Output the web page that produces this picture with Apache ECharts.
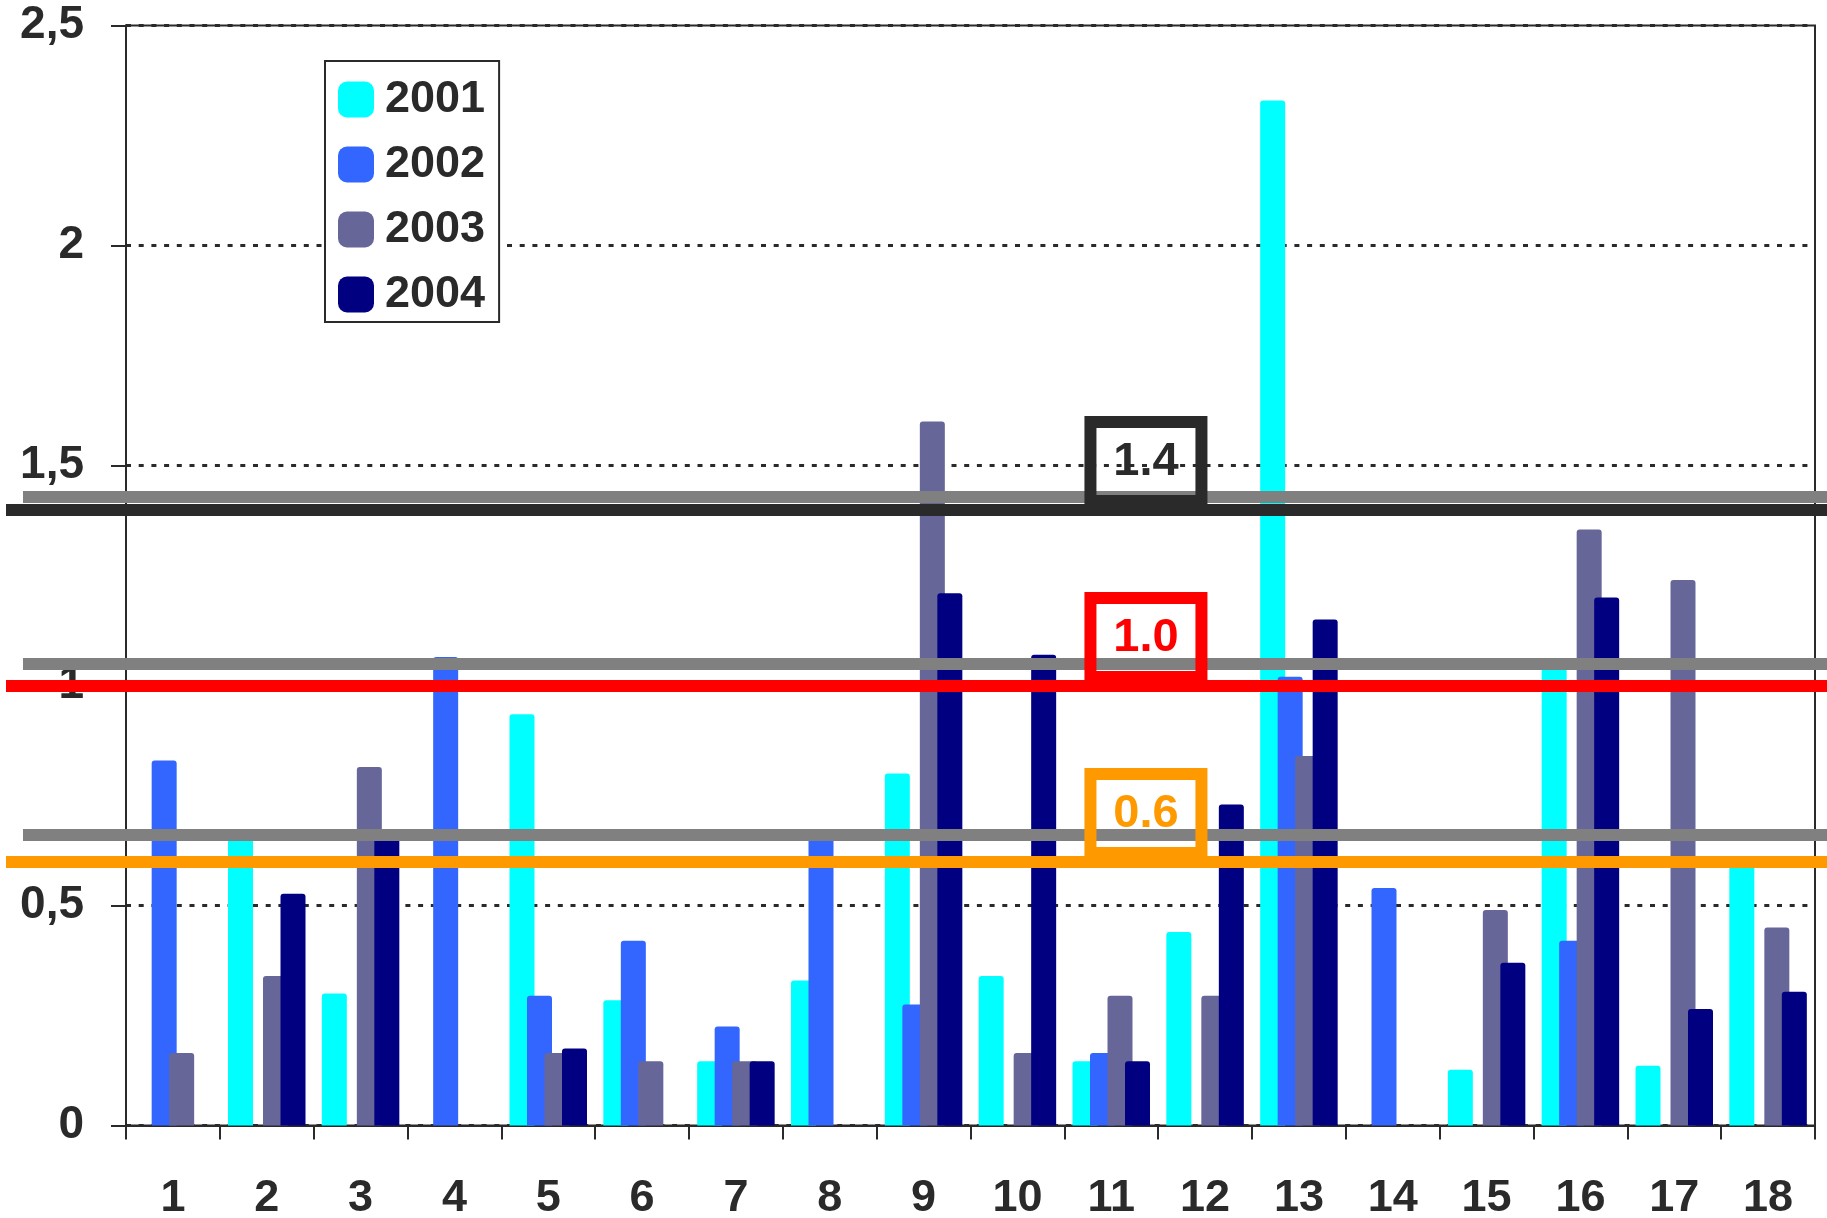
<!DOCTYPE html>
<html>
<head>
<meta charset="utf-8">
<script src="https://cdn.jsdelivr.net/npm/echarts@6/dist/echarts.min.js"></script>
<style>
  html, body { margin: 0; padding: 0; background: #ffffff; }
  #chart { width: 1827px; height: 1218px; }
</style>
</head>
<body>
<div id="chart"></div>
<script>
// Categories on the x axis
const categories = ['1', '2', '3', '4', '5', '6', '7', '8', '9', '10', '11', '12', '13', '14', '15', '16', '17', '18'];

// Series names
const years = ['2001', '2002', '2003', '2004'];

// Values per year (null = no bar)
const values2001 = [null, 0.66, 0.30, null, 0.935, 0.285, 0.146, 0.33, 0.80, 0.34, 0.146, 0.44, 2.33, null, 0.127, 1.04, 0.136, 0.61];
const values2002 = [0.83, null, null, 1.065, 0.295, 0.42, 0.225, 0.66, 0.275, null, 0.165, null, 1.02, 0.54, null, 0.42, null, null];
const values2003 = [0.165, 0.34, 0.815, null, 0.165, 0.146, 0.146, null, 1.60, 0.165, 0.295, 0.295, 0.84, null, 0.49, 1.355, 1.24, 0.45];
const values2004 = [null, 0.527, 0.66, null, 0.175, null, 0.146, null, 1.21, 1.07, 0.146, 0.73, 1.15, null, 0.37, 1.20, 0.265, 0.304];

// Threshold levels with their labels
const thresholds = [1.4, 1.0, 0.6];
// Grey guide lines drawn just above each threshold
const guideLines = [1.425, 1.047, 0.664];

// Y axis range and step
const yMin = 0, yMax = 2.5, yStep = 0.5;

// ---- styling ----
const seriesColors = ['#00FFFF', '#3366FF', '#666699', '#000080'];
const thresholdColors = ['#2a2a2a', '#FF0000', '#FF9900'];
const ink = '#2a2a2a';
const FONT = '"Liberation Sans", Arial, Helvetica, sans-serif';
const BOX_X = 0.626;   // horizontal place of the threshold tags, as a fraction of the overlay width

const plotTop = 25.6, plotBottom = 92.4;

const chart = echarts.init(document.getElementById('chart'), null, { renderer: 'canvas' });

const valueSets = [values2001, values2002, values2003, values2004];

const barSeries = years.map((name, i) => ({
  type: 'bar',
  name: name,
  xAxisIndex: 0,
  yAxisIndex: 0,
  data: valueSets[i],
  barWidth: 25,
  barGap: '-30%',
  z: 2,
  itemStyle: { color: seriesColors[i], borderRadius: [3, 3, 0, 0] }
}));

const option = {
  animation: false,
  backgroundColor: '#ffffff',
  textStyle: { fontFamily: FONT },
  grid: [
    { left: 126, right: 12, top: plotTop, bottom: plotBottom, show: true, borderColor: ink, borderWidth: 2,
      backgroundColor: 'transparent', containLabel: false, outerBoundsMode: 'none' },
    { left: 6, right: 0, top: plotTop, bottom: plotBottom, containLabel: false, outerBoundsMode: 'none' },
    { left: 23, right: 0, top: plotTop, bottom: plotBottom, containLabel: false, outerBoundsMode: 'none' }
  ],
  legend: {
    data: years,
    orient: 'vertical',
    left: 325,
    top: 61,
    padding: [16, 14, 5, 13],
    itemGap: 20,
    itemWidth: 36,
    itemHeight: 36,
    icon: 'roundRect',
    backgroundColor: '#ffffff',
    borderColor: ink,
    borderWidth: 2,
    borderRadius: 0,
    selectedMode: false,
    z: 6,
    textStyle: { fontFamily: FONT, fontSize: 45, fontWeight: 'bold', color: ink, lineHeight: 44, padding: [0, 0, 0, 6] }
  },
  xAxis: [
    {
      gridIndex: 0, type: 'category', data: categories,
      axisLine: { show: true, lineStyle: { color: ink, width: 2 } },
      axisTick: { show: true, length: 14, lineStyle: { color: ink, width: 2 } },
      axisLabel: { show: true, margin: 51, fontFamily: FONT, fontSize: 45, fontWeight: 'bold', color: ink, lineHeight: 44, interval: 0 },
      splitLine: { show: false }
    },
    { gridIndex: 1, type: 'value', min: 0, max: 1, show: false },
    { gridIndex: 2, type: 'value', min: 0, max: 1, show: false }
  ],
  yAxis: [
    {
      gridIndex: 0, type: 'value', min: yMin, max: yMax, interval: yStep,
      axisLine: { show: true, lineStyle: { color: ink, width: 2 } },
      axisTick: { show: true, inside: false, length: 15, lineStyle: { color: ink, width: 2 } },
      axisLabel: { show: true, margin: 42, fontFamily: FONT, fontSize: 46, fontWeight: 'bold', color: ink,
        formatter: v => String(v).replace('.', ',') },
      splitLine: { show: true, lineStyle: { color: ink, width: 3, type: [5, 7.7] } }
    },
    { gridIndex: 1, type: 'value', min: yMin, max: yMax, show: false, splitLine: { show: false } },
    { gridIndex: 2, type: 'value', min: yMin, max: yMax, show: false, splitLine: { show: false } }
  ],
  series: [
    ...barSeries,
    // grey guide lines
    {
      type: 'scatter', name: 'guides', xAxisIndex: 2, yAxisIndex: 2, data: [], silent: true, z: 3,
      markLine: {
        silent: true, symbol: 'none', animation: false,
        label: { show: false },
        data: guideLines.map(v => ({ yAxis: v, lineStyle: { color: '#808080', width: 12, type: 'solid', opacity: 1 } }))
      }
    },
    // threshold lines
    {
      type: 'scatter', name: 'thresholdLines', xAxisIndex: 1, yAxisIndex: 1, data: [], silent: true, z: 4,
      markLine: {
        silent: true, symbol: 'none', animation: false,
        label: { show: false },
        data: thresholds.map((t, i) => ({ yAxis: t, lineStyle: { color: thresholdColors[i], width: 12, type: 'solid', opacity: 1 } }))
      }
    },
    // threshold tags
    {
      type: 'scatter', name: 'thresholdTags', xAxisIndex: 1, yAxisIndex: 1, silent: true, z: 5,
      symbolSize: 1,
      itemStyle: { color: 'rgba(0,0,0,0)', opacity: 1 },
      data: thresholds.map((t, i) => ({
        value: [BOX_X, t],
        label: { color: thresholdColors[i], borderColor: thresholdColors[i] }
      })),
      label: {
        show: true, position: 'top', distance: 8,
        formatter: p => p.value[1].toFixed(1),
        fontFamily: FONT, fontSize: 47, fontWeight: 'bold',
        width: 111, height: 79, lineHeight: 79, align: 'center',
        borderWidth: 6, backgroundColor: 'transparent', opacity: 1
      }
    }
  ]
};

chart.setOption(option);
</script>
</body>
</html>
